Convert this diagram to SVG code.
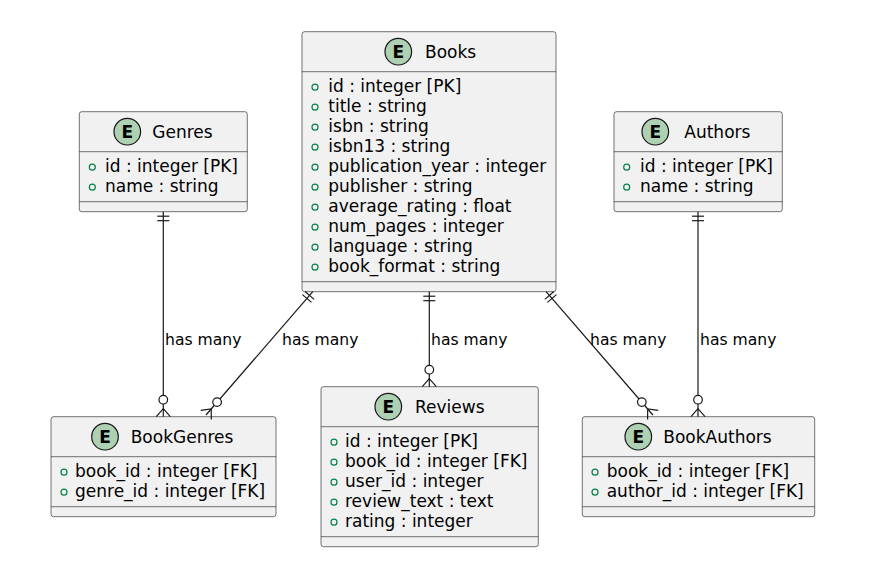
<svg xmlns="http://www.w3.org/2000/svg" width="883" height="580" viewBox="0 0 883 580">
<style>
  .box{fill:#F1F1F1;stroke:#181818;stroke-width:0.6}
  .div{stroke:#181818;stroke-width:0.6}
  .spot{fill:#ADD1B2;stroke:#181818;stroke-width:1.2}
  .spotE{font-family:"DejaVu Sans",sans-serif;font-size:17px;font-weight:bold;fill:#000;text-anchor:middle}
  .title{font-family:"DejaVu Sans",sans-serif;font-size:17px;fill:#000}
  .attr{font-family:"DejaVu Sans",sans-serif;font-size:17px;fill:#000}
  .dot{fill:none;stroke:#038048;stroke-width:1.2}
  .ln{fill:none;stroke:#181818;stroke-width:1.2}
  .oc{fill:#FFFFFF;stroke:#181818;stroke-width:1.2}
  .lbl{font-family:"DejaVu Sans",sans-serif;font-size:15.6px;fill:#000}
</style>
<rect width="883" height="580" fill="#FFFFFF"/>

<g id="Books">
  <rect class="box" x="302" y="31.7" width="254" height="260" rx="2.5"/>
  <line class="div" x1="302" y1="71.7" x2="556" y2="71.7"/>
  <line class="div" x1="302" y1="281.7" x2="556" y2="281.7"/>
  <circle class="spot" cx="398.3" cy="51.7" r="13.3"/>
  <text class="spotE" x="398.3" y="57.9">E</text>
  <text class="title" x="425" y="57.9">Books</text>
  <circle class="dot" cx="315" cy="87.2" r="3"/><text class="attr" x="328.3" y="92.2">id : integer [PK]</text>
  <circle class="dot" cx="315" cy="107.2" r="3"/><text class="attr" x="328.3" y="112.2">title : string</text>
  <circle class="dot" cx="315" cy="127.2" r="3"/><text class="attr" x="328.3" y="132.2">isbn : string</text>
  <circle class="dot" cx="315" cy="147.2" r="3"/><text class="attr" x="328.3" y="152.2">isbn13 : string</text>
  <circle class="dot" cx="315" cy="167.2" r="3"/><text class="attr" x="328.3" y="172.2">publication_year : integer</text>
  <circle class="dot" cx="315" cy="187.2" r="3"/><text class="attr" x="328.3" y="192.2">publisher : string</text>
  <circle class="dot" cx="315" cy="207.2" r="3"/><text class="attr" x="328.3" y="212.2">average_rating : float</text>
  <circle class="dot" cx="315" cy="227.2" r="3"/><text class="attr" x="328.3" y="232.2">num_pages : integer</text>
  <circle class="dot" cx="315" cy="247.2" r="3"/><text class="attr" x="328.3" y="252.2">language : string</text>
  <circle class="dot" cx="315" cy="267.2" r="3"/><text class="attr" x="328.3" y="272.2">book_format : string</text>
</g>

<g id="Genres">
  <rect class="box" x="79.3" y="111.7" width="168" height="100" rx="2.5"/>
  <line class="div" x1="79.3" y1="151.7" x2="247.3" y2="151.7"/>
  <line class="div" x1="79.3" y1="201.7" x2="247.3" y2="201.7"/>
  <circle class="spot" cx="127.3" cy="131.7" r="13.3"/>
  <text class="spotE" x="127.3" y="137.9">E</text>
  <text class="title" x="152.3" y="137.9">Genres</text>
  <circle class="dot" cx="92.3" cy="167.2" r="3"/><text class="attr" x="105" y="172.2">id : integer [PK]</text>
  <circle class="dot" cx="92.3" cy="187.2" r="3"/><text class="attr" x="105" y="192.2">name : string</text>
</g>

<g id="Authors">
  <rect class="box" x="614" y="111.7" width="168.3" height="100" rx="2.5"/>
  <line class="div" x1="614" y1="151.7" x2="782.3" y2="151.7"/>
  <line class="div" x1="614" y1="201.7" x2="782.3" y2="201.7"/>
  <circle class="spot" cx="655.3" cy="131.7" r="13.3"/>
  <text class="spotE" x="655.3" y="137.9">E</text>
  <text class="title" x="684.3" y="137.9">Authors</text>
  <circle class="dot" cx="626.7" cy="167.2" r="3"/><text class="attr" x="640" y="172.2">id : integer [PK]</text>
  <circle class="dot" cx="626.7" cy="187.2" r="3"/><text class="attr" x="640" y="192.2">name : string</text>
</g>

<g id="BookGenres">
  <rect class="box" x="51" y="416.7" width="225" height="100" rx="2.5"/>
  <line class="div" x1="51" y1="456.7" x2="276" y2="456.7"/>
  <line class="div" x1="51" y1="506.7" x2="276" y2="506.7"/>
  <circle class="spot" cx="105" cy="436.7" r="13.3"/>
  <text class="spotE" x="105" y="442.9">E</text>
  <text class="title" x="130.7" y="442.9">BookGenres</text>
  <circle class="dot" cx="64" cy="472.2" r="3"/><text class="attr" x="75" y="477.2">book_id : integer [FK]</text>
  <circle class="dot" cx="64" cy="492.2" r="3"/><text class="attr" x="75" y="497.2">genre_id : integer [FK]</text>
</g>

<g id="Reviews">
  <rect class="box" x="321" y="386.7" width="217.3" height="160" rx="2.5"/>
  <line class="div" x1="321" y1="426.7" x2="538.3" y2="426.7"/>
  <line class="div" x1="321" y1="536.7" x2="538.3" y2="536.7"/>
  <circle class="spot" cx="388.3" cy="406.7" r="13.3"/>
  <text class="spotE" x="388.3" y="412.9">E</text>
  <text class="title" x="415" y="412.9">Reviews</text>
  <circle class="dot" cx="334" cy="442.2" r="3"/><text class="attr" x="345" y="447.2">id : integer [PK]</text>
  <circle class="dot" cx="334" cy="462.2" r="3"/><text class="attr" x="345" y="467.2">book_id : integer [FK]</text>
  <circle class="dot" cx="334" cy="482.2" r="3"/><text class="attr" x="345" y="487.2">user_id : integer</text>
  <circle class="dot" cx="334" cy="502.2" r="3"/><text class="attr" x="345" y="507.2">review_text : text</text>
  <circle class="dot" cx="334" cy="522.2" r="3"/><text class="attr" x="345" y="527.2">rating : integer</text>
</g>

<g id="BookAuthors">
  <rect class="box" x="582.3" y="416.7" width="232.4" height="100" rx="2.5"/>
  <line class="div" x1="582.3" y1="456.7" x2="814.7" y2="456.7"/>
  <line class="div" x1="582.3" y1="506.7" x2="814.7" y2="506.7"/>
  <circle class="spot" cx="638.3" cy="436.7" r="13.3"/>
  <text class="spotE" x="638.3" y="442.9">E</text>
  <text class="title" x="663.3" y="442.9">BookAuthors</text>
  <circle class="dot" cx="595" cy="472.2" r="3"/><text class="attr" x="606.7" y="477.2">book_id : integer [FK]</text>
  <circle class="dot" cx="595" cy="492.2" r="3"/><text class="attr" x="606.7" y="497.2">author_id : integer [FK]</text>
</g>

<g id="connectors">
  <!-- Genres -> BookGenres -->
  <line class="ln" x1="163.3" y1="211.7" x2="163.3" y2="416.7"/>
  <line class="ln" x1="157.3" y1="216.2" x2="169.3" y2="216.2"/>
  <line class="ln" x1="157.3" y1="220.7" x2="169.3" y2="220.7"/>
  <polyline class="ln" points="156.3,416.7 163.3,408.7 170.3,416.7"/>
  <circle class="oc" cx="163.3" cy="399.7" r="4.3"/>
  <text class="lbl" x="165" y="345">has many</text>

  <!-- Books -> BookGenres -->
  <line class="ln" x1="312.8" y1="291.7" x2="206" y2="415"/>
  <line class="ln" x1="305.0" y1="291.5" x2="314.1" y2="299.4"/>
  <line class="ln" x1="302.4" y1="294.6" x2="311.5" y2="302.4"/>
  <polyline class="ln" points="200.7,410.4 211.2,409 211.3,419.6"/>
  <circle class="oc" cx="217.1" cy="402.1" r="4.3"/>
  <text class="lbl" x="282" y="345">has many</text>

  <!-- Books -> Reviews -->
  <line class="ln" x1="429.3" y1="291.7" x2="429.3" y2="386.7"/>
  <line class="ln" x1="423.3" y1="296.2" x2="435.3" y2="296.2"/>
  <line class="ln" x1="423.3" y1="300.7" x2="435.3" y2="300.7"/>
  <polyline class="ln" points="422.3,386.7 429.3,378.7 436.3,386.7"/>
  <circle class="oc" cx="429.3" cy="369.7" r="4.3"/>
  <text class="lbl" x="431" y="345">has many</text>

  <!-- Books -> BookAuthors -->
  <line class="ln" x1="546.1" y1="291.7" x2="652.9" y2="415"/>
  <line class="ln" x1="553.9" y1="291.5" x2="544.8" y2="299.4"/>
  <line class="ln" x1="556.5" y1="294.6" x2="547.4" y2="302.4"/>
  <polyline class="ln" points="658.2,410.4 647.7,409 647.6,419.6"/>
  <circle class="oc" cx="641.8" cy="402.1" r="4.3"/>
  <text class="lbl" x="590" y="345">has many</text>

  <!-- Authors -> BookAuthors -->
  <line class="ln" x1="698" y1="211.7" x2="698" y2="416.7"/>
  <line class="ln" x1="692" y1="216.2" x2="704" y2="216.2"/>
  <line class="ln" x1="692" y1="220.7" x2="704" y2="220.7"/>
  <polyline class="ln" points="691,416.7 698,408.7 705,416.7"/>
  <circle class="oc" cx="698" cy="399.7" r="4.3"/>
  <text class="lbl" x="700" y="345">has many</text>
</g>
</svg>
